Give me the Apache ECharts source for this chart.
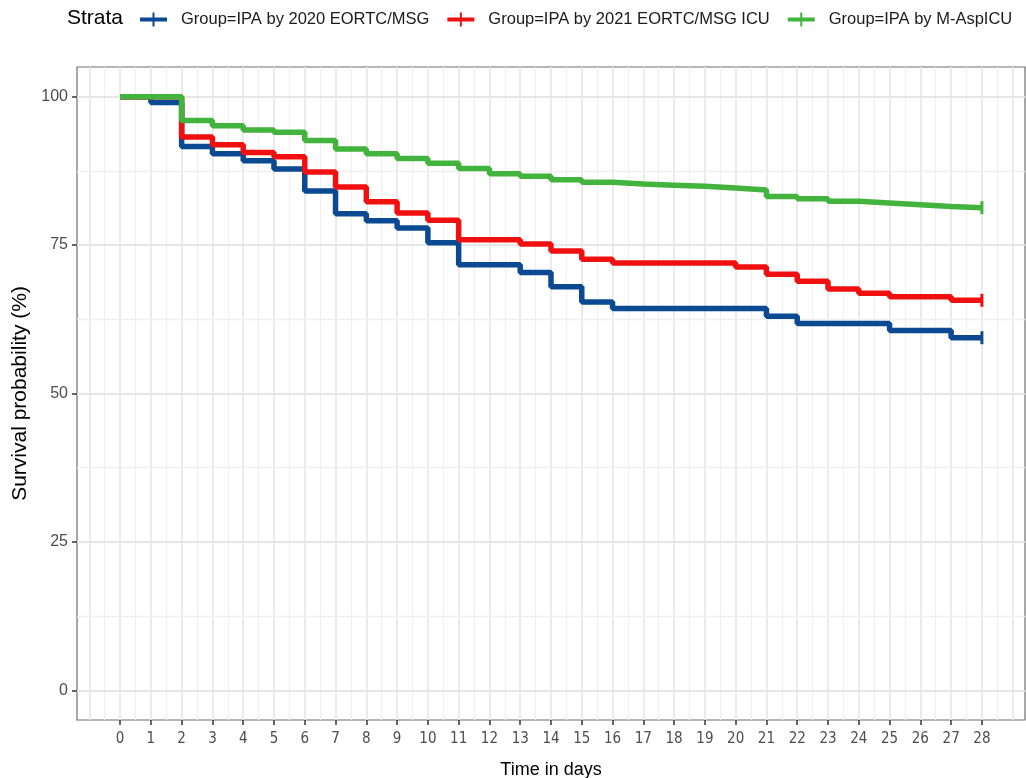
<!DOCTYPE html>
<html>
<head>
<meta charset="utf-8">
<style>
  html, body { margin: 0; padding: 0; background: #fff; }
  #chart { width: 1026px; height: 778px; }
</style>
<script src="https://cdn.jsdelivr.net/npm/echarts@6/dist/echarts.min.js"></script>
</head>
<body>
<div id="chart"></div>
<script>
// Kaplan-Meier steps: time of each drop and the survival (%) after it
const blueName = 'Group=IPA by 2020 EORTC/MSG'
const blueTimes = [0, 1, 2, 3, 4, 5, 6, 7, 8, 9, 10, 11, 13, 14, 15, 16, 21, 22, 25, 27, 28]
const blueSurv = [100, 99.0, 91.6, 90.4, 89.2, 87.8, 84.1, 80.3, 79.1, 77.9, 75.4, 71.7, 70.4, 68.0, 65.4, 64.3, 63.0, 61.8, 60.6, 59.4, 59.4]

const redName = 'Group=IPA by 2021 EORTC/MSG ICU'
const redTimes = [0, 2, 3, 4, 5, 6, 7, 8, 9, 10, 11, 13, 14, 15, 16, 20, 21, 22, 23, 24, 25, 27, 28]
const redSurv = [100, 93.2, 91.9, 90.6, 89.9, 87.3, 84.8, 82.3, 80.4, 79.2, 75.9, 75.2, 74.0, 72.6, 72.0, 71.3, 70.1, 68.9, 67.6, 66.9, 66.3, 65.7, 65.7]

const greenName = 'Group=IPA by M-AspICU'
const greenTimes = [0, 2, 3, 4, 5, 6, 7, 8, 9, 10, 11, 12, 13, 14, 15, 16, 17, 18, 19, 20, 21, 22, 23, 24, 25, 26, 27, 28]
const greenSurv = [100, 96.0, 95.1, 94.4, 94.0, 92.6, 91.2, 90.4, 89.6, 88.8, 87.9, 87.0, 86.6, 86.0, 85.6, 85.3, 85.1, 84.9, 84.6, 84.3, 83.2, 82.8, 82.4, 82.1, 81.8, 81.5, 81.3, 81.3]

const xTicks = [0, 1, 2, 3, 4, 5, 6, 7, 8, 9, 10, 11, 12, 13, 14, 15, 16, 17, 18, 19, 20, 21, 22, 23, 24, 25, 26, 27, 28]
const yTicks = [0, 25, 50, 75, 100]
// grid lines (major + minor) like ggplot theme_bw
const xGrid = [-1, -0.5, 0, 0.5, 1, 1.5, 2, 2.5, 3, 3.5, 4, 4.5, 5, 5.5, 6, 6.5, 7, 7.5, 8, 8.5, 9, 9.5, 10, 10.5, 11, 11.5, 12, 12.5, 13, 13.5, 14, 14.5, 15, 15.5, 16, 16.5, 17, 17.5, 18, 18.5, 19, 19.5, 20, 20.5, 21, 21.5, 22, 22.5, 23, 23.5, 24, 24.5, 25, 25.5, 26, 26.5, 27, 27.5, 28, 28.5, 29]
const yGrid = [0, 12.5, 25, 37.5, 50, 62.5, 75, 87.5, 100]

const colors = ['#0b4a92', '#f01010', '#42b33c']

function kmSeries(name, times, surv, color) {
  const data = times.map((t, i) => [t, surv[i]])
  const last = data[data.length - 1]
  return {
    name: name,
    type: 'line',
    step: 'end',
    data: data,
    symbol: 'none',
    zlevel: 1,
    z: 2,
    color: color,
    lineStyle: { width: 5.5, color: color },
    markPoint: {
      zlevel: 1,
      z: 3,
      symbol: 'rect',
      symbolSize: [3, 13],
      silent: true,
      label: { show: false },
      itemStyle: { color: color },
      data: [{ coord: last }]
    },
    animation: false
  }
}

function gridLines() {
  const lines = []
  xGrid.forEach(v => {
    const major = Number.isInteger(v)
    lines.push({ xAxis: v, lineStyle: { color: major ? '#e6e6e6' : '#f0f0f0', width: major ? 1.6 : 1.2, type: 'solid' } })
  })
  yGrid.forEach(v => {
    const major = v % 25 === 0
    lines.push({ yAxis: v, lineStyle: { color: major ? '#e6e6e6' : '#f0f0f0', width: major ? 1.8 : 1.3, type: 'solid' } })
  })
  return lines
}

const chart = echarts.init(document.getElementById('chart'))

chart.setOption({
  backgroundColor: '#fff',
  animation: false,
  textStyle: { fontFamily: 'Liberation Sans, Arial, sans-serif' },
  graphic: [
    {
      type: 'text',
      left: 67,
      top: 8,
      style: { text: 'Strata', fontSize: 21, fill: '#000', fontFamily: 'Liberation Sans, Arial, sans-serif' }
    }
  ],
  legend: {
    data: [blueName, redName, greenName],
    orient: 'horizontal',
    left: 140,
    top: 11,
    width: 1000,
    padding: 0,
    itemWidth: 27,
    itemHeight: 14,
    itemGap: 18,
    icon: 'path://M0,5H27V9H0Z M12.5,0H14.5V14H12.5Z',
    textStyle: { fontSize: 16.5, color: '#1a1a1a', padding: [0, 0, 0, 9] }
  },
  grid: {
    left: 77,
    right: 1,
    top: 67,
    bottom: 58,
    outerBoundsMode: 'none',
    containLabel: false,
    show: true,
    borderColor: '#6e6e6e',
    borderWidth: 1.2,
    backgroundColor: '#fff'
  },
  xAxis: {
    type: 'value',
    min: -1.4,
    max: 29.4,
    name: 'Time in days',
    nameLocation: 'middle',
    nameGap: 41,
    nameTextStyle: { fontSize: 18, color: '#000' },
    axisLine: { show: false, onZero: false },
    axisTick: { show: true, length: 5, customValues: xTicks, lineStyle: { color: '#333', width: 1.5 } },
    axisLabel: {
      customValues: xTicks,
      fontSize: 15,
      color: '#4d4d4d',
      margin: 12,
      fontFamily: 'Liberation Sans Narrow, DejaVu Sans Condensed, sans-serif'
    },
    splitLine: { show: false }
  },
  yAxis: {
    type: 'value',
    min: -5,
    max: 105,
    name: 'Survival probability (%)',
    nameLocation: 'middle',
    nameGap: 45,
    nameTextStyle: { fontSize: 21, color: '#000' },
    axisLine: { show: false, onZero: false },
    axisTick: { show: true, length: 5, customValues: yTicks, lineStyle: { color: '#333', width: 1.5 } },
    axisLabel: { customValues: yTicks, fontSize: 16, color: '#4d4d4d', margin: 9 },
    splitLine: { show: false }
  },
  series: [
    {
      name: 'grid',
      type: 'line',
      data: [],
      z: 1,
      silent: true,
      markLine: {
        z: 0,
        silent: true,
        symbol: ['none', 'none'],
        label: { show: false },
        animation: false,
        data: gridLines()
      }
    },
    kmSeries(blueName, blueTimes, blueSurv, colors[0]),
    kmSeries(redName, redTimes, redSurv, colors[1]),
    kmSeries(greenName, greenTimes, greenSurv, colors[2])
  ]
})
</script>
</body>
</html>
